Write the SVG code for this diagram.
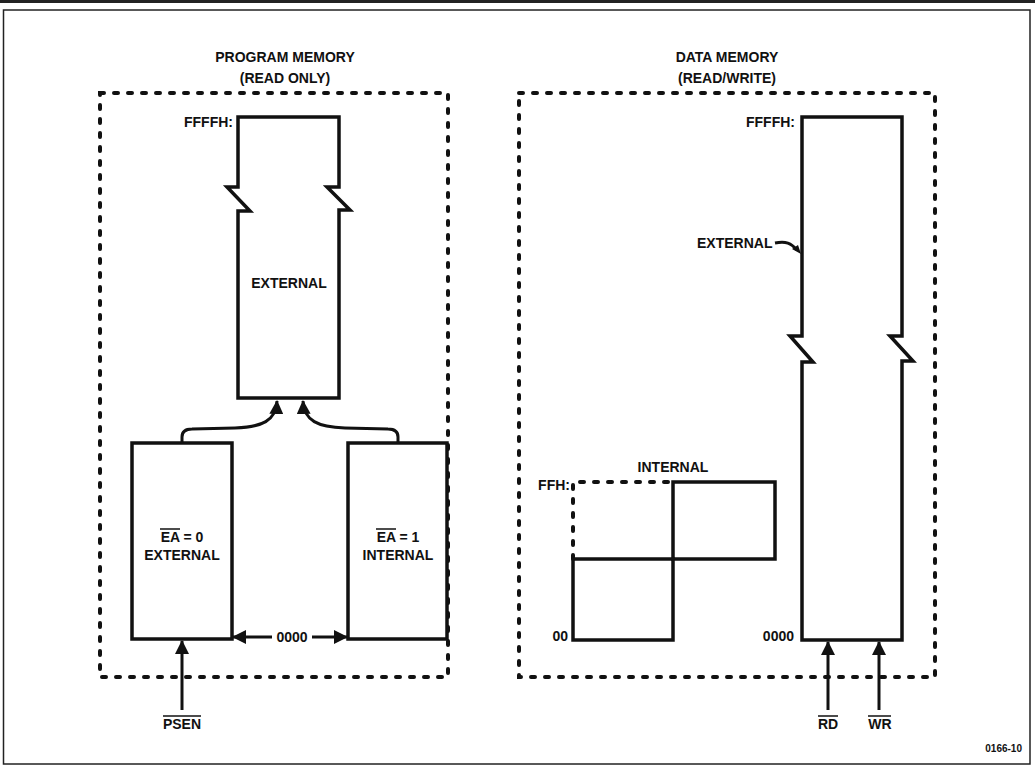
<svg xmlns="http://www.w3.org/2000/svg" width="1035" height="766" viewBox="0 0 1035 766">
<defs>
<style>
.t{font-family:"Liberation Sans",Arial,sans-serif;font-weight:bold;font-size:14px;fill:#111}
.m{text-anchor:middle}
.e{text-anchor:end}
.s{fill:none;stroke:#111;stroke-width:3.5;stroke-linejoin:miter}
.d{fill:none;stroke:#111;stroke-width:4;stroke-dasharray:4 10;stroke-linecap:round}
.c{fill:none;stroke:#111;stroke-width:3}
.ol{stroke:#111;stroke-width:1.5}
.ah{fill:#111}
</style>
<marker id="arr" markerUnits="userSpaceOnUse" markerWidth="14" markerHeight="14" viewBox="0 0 14 14" refX="13" refY="7" orient="auto">
<path d="M0,0 L14,7 L0,14 Z" class="ah"/>
</marker>
</defs>
<rect width="1035" height="766" fill="#fff"/>
<g id="frame">
<rect x="0" y="0" width="1035" height="3" fill="#222"/>
<rect x="3.5" y="10" width="1026.5" height="754" fill="none" stroke="#222" stroke-width="1.5"/>
</g>
<g id="program-memory">
<text class="t m" x="285" y="62">PROGRAM MEMORY</text>
<text class="t m" x="285" y="83">(READ ONLY)</text>
<rect class="d" x="100" y="93" width="348" height="584"/>
</g>
<g id="program-external">
<path class="s" d="M238,398 V211 H250 L227,187 H238 V117 H339 V187 H327 L350,210 H339 V398 Z"/>
<text class="t e" x="233" y="127">FFFFH:</text>
<text class="t m" x="289" y="288">EXTERNAL</text>
</g>
<g id="ea0-external">
<rect class="s" x="132" y="443" width="100" height="196"/>
<text class="t m" x="182" y="542">EA = 0</text>
<line class="ol" x1="160" y1="529" x2="180" y2="529"/>
<text class="t m" x="182" y="560">EXTERNAL</text>
</g>
<g id="ea1-internal">
<rect class="s" x="348" y="443" width="99" height="196"/>
<text class="t m" x="398" y="542">EA = 1</text>
<line class="ol" x1="376" y1="529" x2="396" y2="529"/>
<text class="t m" x="398" y="560">INTERNAL</text>
</g>
<g id="data-memory">
<text class="t m" x="727" y="62">DATA MEMORY</text>
<text class="t m" x="727" y="83">(READ/WRITE)</text>
<rect class="d" x="519" y="93" width="416" height="584"/>
</g>
<g id="data-external">
<path class="s" d="M802,640 V362 H813 L790,336 H802 V117 H902 V336 H890 L913,361 H902 V640 Z"/>
<text class="t e" x="795" y="127">FFFFH:</text>
<text class="t" x="697" y="248">EXTERNAL</text>
<text class="t e" x="794" y="641">0000</text>
</g>
<g id="data-internal">
<path class="d" d="M573,559 V482 H673"/>
<rect class="s" x="673" y="482" width="102" height="77"/>
<rect class="s" x="573" y="559" width="100" height="81"/>
<text class="t m" x="673" y="472">INTERNAL</text>
<text class="t e" x="570" y="490">FFH:</text>
<text class="t e" x="568" y="641">00</text>
</g>
<g id="connectors">
<path class="c" d="M182,443 V437 Q182,429 192,429 L235,428 C262,427 276,421 277,401" marker-end="url(#arr)"/>
<path class="c" d="M398,443 V437 Q398,429 388,429 L345,428 C318,427 304,421 303,401" marker-end="url(#arr)"/>
<path class="c" d="M272,637 H233" marker-end="url(#arr)"/>
<path class="c" d="M312,637 H347" marker-end="url(#arr)"/>
<text class="t m" x="292" y="642">0000</text>
<path class="c" d="M182,710 V641" marker-end="url(#arr)"/>
<path class="c" d="M828,710 V642" marker-end="url(#arr)"/>
<path class="c" d="M879,710 V642" marker-end="url(#arr)"/>
<path class="c" d="M775,243 C786,241 791,243 797,250" stroke-width="2"/>
<path class="ah" d="M801,254 L792,249 L798,245 Z"/>
</g>
<g id="signals">
<text class="t m" x="182" y="729">PSEN</text>
<line class="ol" x1="163" y1="716" x2="201" y2="716"/>
<text class="t m" x="828" y="729">RD</text>
<line class="ol" x1="818" y1="716" x2="838" y2="716"/>
<text class="t m" x="880" y="729">WR</text>
<line class="ol" x1="868" y1="716" x2="891" y2="716"/>
<text class="t e" x="1022" y="752" style="font-size:10px">0166-10</text>
</g>
</svg>
